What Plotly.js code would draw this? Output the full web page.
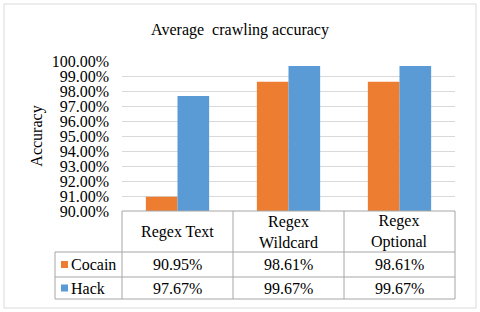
<!DOCTYPE html>
<html><head><meta charset="utf-8">
<script src="https://cdn.plot.ly/plotly-3.0.1.min.js"></script>
<style>html,body{margin:0;padding:0;background:#fff}#c{width:480px;height:312px}</style>
</head><body><div id="c"></div>
<script>
var categories = ["Regex Text", "Regex Wildcard", "Regex Optional"];
var seriesNames = ["Cocain", "Hack"];
var cocain = [0.9095, 0.9861, 0.9861];
var hack = [0.9767, 0.9967, 0.9967];
var colors = ["#ED7D31", "#5B9BD5"];

var W = 480, H = 312;
var L = 122, R = 455, T = 61, B = 211;
function px(x){ return (x - L) / (R - L); }
function py(y){ return (B - y) / (B - T); }
var font = "Liberation Serif";
var fs = 16;
var lineCol = "#A6A6A6";

var traces = [
  {type: "bar", name: seriesNames[0], x: categories, y: cocain, marker: {color: colors[0]}, hoverinfo: "none"},
  {type: "bar", name: seriesNames[1], x: categories, y: hack, marker: {color: colors[1]}, hoverinfo: "none"}
];

var rowY = [211, 252, 277, 299];
var colX = [122, 233, 344, 455];
var legX = 55;
var shapes = [];
shapes.push({type: "rect", xref: "paper", yref: "paper", x0: px(4), x1: px(476), y0: py(4), y1: py(308), line: {color: "#D9D9D9", width: 1}, layer: "below"});
shapes.push({type: "line", xref: "paper", yref: "paper", x0: px(colX[0]), x1: px(colX[3]), y0: py(rowY[0]), y1: py(rowY[0]), line: {color: lineCol, width: 1}});
for (var i = 1; i < rowY.length; i++) {
  shapes.push({type: "line", xref: "paper", yref: "paper", x0: px(legX), x1: px(colX[3]), y0: py(rowY[i]), y1: py(rowY[i]), line: {color: lineCol, width: 1}});
}
for (var j = 0; j < colX.length; j++) {
  shapes.push({type: "line", xref: "paper", yref: "paper", x0: px(colX[j]), x1: px(colX[j]), y0: py(rowY[0]), y1: py(rowY[3]), line: {color: lineCol, width: 1}});
}
shapes.push({type: "line", xref: "paper", yref: "paper", x0: px(legX), x1: px(legX), y0: py(rowY[1]), y1: py(rowY[3]), line: {color: lineCol, width: 1}});

var annotations = [];
function fmt(v){ return (v * 100).toFixed(2) + "%"; }
function wrap(s){ return s.length > 10 ? s.replace(" ", "<br>") : s; }
for (var k = 0; k < categories.length; k++) {
  var cx = px((colX[k] + colX[k+1]) / 2);
  annotations.push({xref: "paper", yref: "paper", x: cx, y: py((rowY[0] + rowY[1]) / 2), text: wrap(categories[k]), showarrow: false, font: {family: font, size: fs, color: "#000"}, xanchor: "center", yanchor: "middle"});
  annotations.push({xref: "paper", yref: "paper", x: cx, y: py((rowY[1] + rowY[2]) / 2), text: fmt(cocain[k]), showarrow: false, font: {family: font, size: fs, color: "#000"}, xanchor: "center", yanchor: "middle"});
  annotations.push({xref: "paper", yref: "paper", x: cx, y: py((rowY[2] + rowY[3]) / 2), text: fmt(hack[k]), showarrow: false, font: {family: font, size: fs, color: "#000"}, xanchor: "center", yanchor: "middle"});
}
for (var s = 0; s < seriesNames.length; s++) {
  var yc = (rowY[s+1] + rowY[s+2]) / 2;
  shapes.push({type: "rect", xref: "paper", yref: "paper", x0: px(61), x1: px(68), y0: py(yc - 3.5), y1: py(yc + 3.5), fillcolor: colors[s], line: {width: 0}});
  annotations.push({xref: "paper", yref: "paper", x: px(69), y: py(yc), text: seriesNames[s], showarrow: false, font: {family: font, size: fs, color: "#000"}, xanchor: "left", yanchor: "middle"});
}

var layout = {
  width: W, height: H,
  margin: {l: L, r: W - R, t: T, b: H - B, pad: 0},
  paper_bgcolor: "#fff", plot_bgcolor: "#fff",
  font: {family: font},
  showlegend: false,
  barmode: "group", bargap: 0.43, bargroupgap: 0,
  title: {text: "Average  crawling accuracy", font: {family: font, size: 16, color: "#000"}, x: 0.5, xanchor: "center", xref: "container", y: 1 - 29 / H, yanchor: "middle", yref: "container"},
  xaxis: {type: "category", showticklabels: false, showgrid: false, zeroline: false, showline: false, ticks: "", range: [-0.5, 2.5], fixedrange: true},
  yaxis: {range: [0.9, 1.0], dtick: 0.01, tick0: 0.9, tickformat: ".2%", showgrid: true, gridcolor: "#D9D9D9", gridwidth: 1, zeroline: false, showline: false, ticks: "", ticklabelstandoff: 12,
    tickfont: {family: font, size: fs, color: "#000"},
    title: {text: "Accuracy", font: {family: font, size: fs, color: "#000"}, standoff: 5}},
  shapes: shapes,
  annotations: annotations
};
Plotly.newPlot("c", traces, layout, {displayModeBar: false, staticPlot: true});
</script></body></html>
